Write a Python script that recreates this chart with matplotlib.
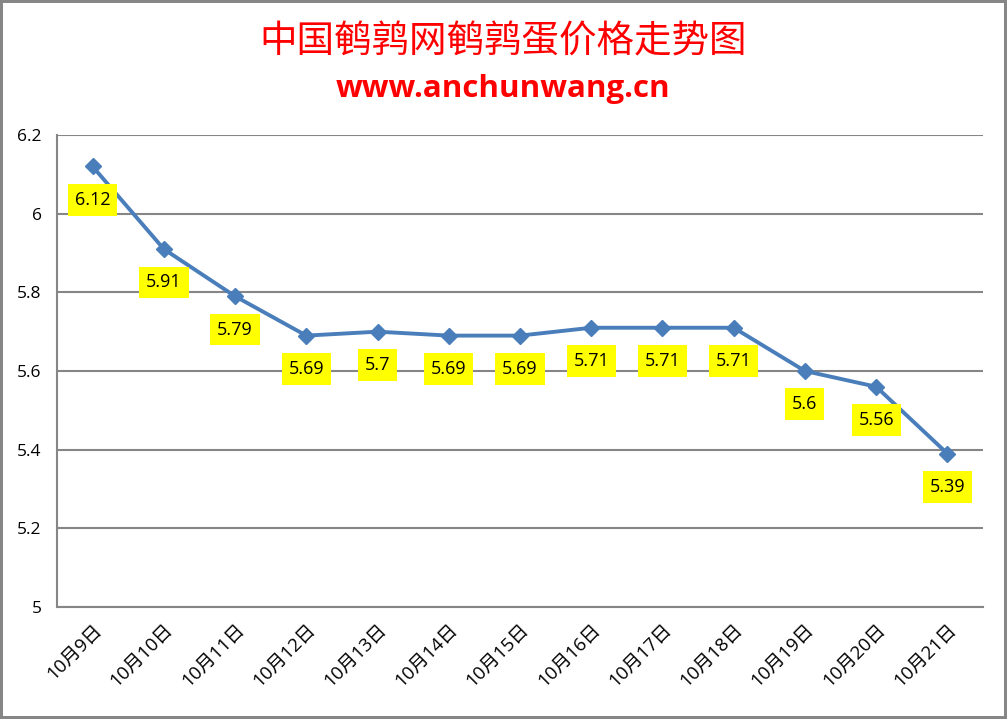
import matplotlib.pyplot as plt

dates = ['10月9日', '10月10日', '10月11日', '10月12日', '10月13日', '10月14日', '10月15日',
         '10月16日', '10月17日', '10月18日', '10月19日', '10月20日', '10月21日']
prices = [6.12, 5.91, 5.79, 5.69, 5.7, 5.69, 5.69, 5.71, 5.71, 5.71, 5.6, 5.56, 5.39]
yticks = [5, 5.2, 5.4, 5.6, 5.8, 6, 6.2]

cjk = ['Open Sans', 'Noto Sans CJK SC']
grey = '#868686'

fig = plt.figure(figsize=(10.07, 7.19), dpi=100, edgecolor=grey, linewidth=3)
ax = fig.add_axes([0.0566, 0.1558, 0.9196, 0.6564])

x = list(range(len(prices)))
ax.plot(x, prices, color='#4a7ebb', linewidth=2.8, marker='D', markersize=8)

for xi, p in zip(x, prices):
    ax.annotate('%g' % p, (xi, p), xytext=(0, -24), textcoords='offset points',
                ha='center', va='center', fontsize=13, family=cjk,
                bbox=dict(boxstyle='square,pad=0.38', facecolor='#ffff00', edgecolor='none'))

ax.set_xlim(-0.5, len(prices) - 0.5)
ax.set_ylim(5, 6.2)
ax.set_yticks(yticks)
ax.set_yticklabels(['%g' % t for t in yticks], family=cjk, fontsize=12.5)
ax.set_xticks(x)
ax.set_xticklabels(dates, rotation=45, ha='right', rotation_mode='anchor',
                   family=cjk, fontsize=13.5)
ax.tick_params(axis='both', length=0)
ax.tick_params(axis='y', pad=11)
ax.tick_params(axis='x', pad=10)

ax.grid(axis='y', color=grey, linewidth=1.5)
ax.set_axisbelow(True)
for side in ['top', 'right']:
    ax.spines[side].set_visible(False)
for side in ['left', 'bottom']:
    ax.spines[side].set_color(grey)
    ax.spines[side].set_linewidth(1.5)

fig.text(0.5, 0.941, '中国鹌鹑网鹌鹑蛋价格走势图', color='red', fontsize=27,
         family='Noto Sans CJK SC', ha='center', va='center')
fig.text(0.5, 0.876, 'www.anchunwang.cn', color='red', fontsize=22.5, fontweight='bold',
         family='Open Sans', ha='center', va='center')

fig.savefig('out.png', dpi=100)
